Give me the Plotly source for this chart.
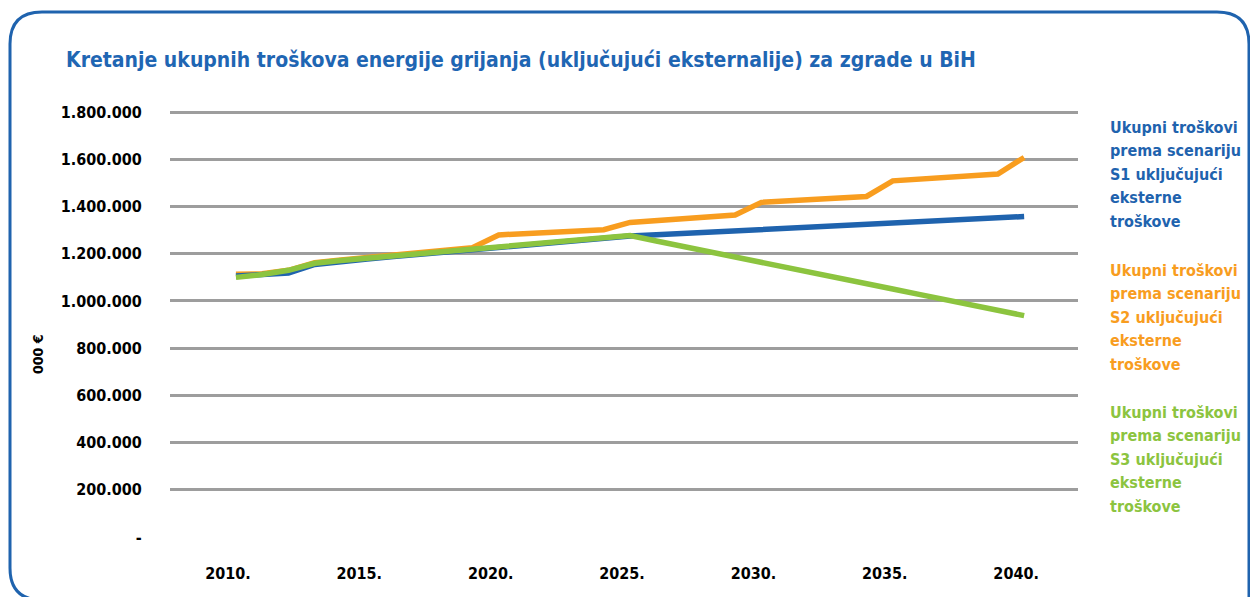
import plotly.graph_objects as go

years = list(range(2010, 2041))

s1_blue = [1106000, 1110000, 1118000, 1155000, 1168000, 1178000, 1188000, 1198000,
           1208000, 1218000, 1228000, 1237000, 1246000, 1255000, 1264000, 1275000,
           1280500, 1286000, 1291500, 1297000, 1302500, 1308000, 1313500, 1319000,
           1324500, 1330000, 1335500, 1341000, 1346500, 1352000, 1358000]

s2_orange = [1113000, 1115000, 1130000, 1162000, 1174000, 1184000, 1194000, 1204000,
             1214000, 1226000, 1280000, 1286000, 1291000, 1297000, 1302000, 1333000,
             1340000, 1348000, 1356000, 1364000, 1418000, 1424000, 1430000, 1437000,
             1443000, 1509000, 1516000, 1523000, 1530000, 1538000, 1608000]

s3_green = [1100000, 1112000, 1130000, 1160000, 1172000, 1182000, 1192000, 1202000,
            1212000, 1222000, 1232000, 1241000, 1250000, 1259000, 1268000, 1277000,
            1254000, 1232000, 1209000, 1187000, 1164000, 1141000, 1119000, 1096000,
            1074000, 1051000, 1028000, 1006000, 983000, 961000, 938000]

x_tick_vals = [2010, 2015, 2020, 2025, 2030, 2035, 2040]
x_tick_text = ["2010.", "2015.", "2020.", "2025.", "2030.", "2035.", "2040."]
y_tick_vals = [0, 200000, 400000, 600000, 800000, 1000000, 1200000, 1400000, 1600000, 1800000]
y_tick_text = ["-", "200.000", "400.000", "600.000", "800.000", "1.000.000",
               "1.200.000", "1.400.000", "1.600.000", "1.800.000"]

legend_lines = [
    ["Ukupni troškovi", "prema scenariju", "S1 uključujući", "eksterne", "troškove"],
    ["Ukupni troškovi", "prema scenariju", "S2 uključujući", "eksterne", "troškove"],
    ["Ukupni troškovi", "prema scenariju", "S3 uključujući", "eksterne", "troškove"],
]
title_text = "Kretanje ukupnih troškova energije grijanja (uključujući eksternalije) za zgrade u BiH"

BLUE = "#1f63ae"
ORANGE = "#f89d1f"
GREEN = "#8cc43f"
TITLE_BLUE = "#1f66b3"
FONT = "DejaVu Sans Condensed, Arial Narrow, sans-serif"

W, H = 1250, 597
L, R, T, B = 170, 172, 111, 60
PW, PH = W - L - R, H - T - B


def px(x):
    return (x - L) / PW


def py(y):
    return (H - B - y) / PH


fig = go.Figure()
fig.add_trace(go.Scatter(x=years, y=s2_orange, mode="lines",
                         line=dict(color=ORANGE, width=5.5), showlegend=False))
fig.add_trace(go.Scatter(x=years, y=s1_blue, mode="lines",
                         line=dict(color=BLUE, width=5.5), showlegend=False))
fig.add_trace(go.Scatter(x=years, y=s3_green, mode="lines",
                         line=dict(color=GREEN, width=5.5), showlegend=False))

# rounded border
x0, x1, y0, y1, r = 10, 1249, 12, 600, 32
path = (f"M {px(x1)},{py(y1)} L {px(x0 + r)},{py(y1)} "
        f"Q {px(x0)},{py(y1)} {px(x0)},{py(y1 - r)} "
        f"L {px(x0)},{py(y0 + r)} "
        f"Q {px(x0)},{py(y0)} {px(x0 + r)},{py(y0)} "
        f"L {px(x1 - r)},{py(y0)} Q {px(x1)},{py(y0)} {px(x1)},{py(y0 + r)} "
        f"L {px(x1)},{py(y1)}")
fig.add_shape(type="path", path=path, xref="paper", yref="paper",
              line=dict(color="#1f63ae", width=3), layer="below")

annotations = [
    dict(text=title_text, x=px(64), y=py(60), xref="paper", yref="paper",
         xanchor="left", yanchor="middle", showarrow=False,
         font=dict(family=FONT, size=21, color=TITLE_BLUE, weight="bold")),
    dict(text="000 €", x=px(38), y=py(355), xref="paper", yref="paper",
         xanchor="center", yanchor="middle", textangle=-90, showarrow=False,
         font=dict(family=FONT, size=14, color="black", weight="bold")),
]
legend_tops = [127, 270, 412]
for lines, color, top in zip(legend_lines, [BLUE, ORANGE, GREEN], legend_tops):
    for i, line in enumerate(lines):
        annotations.append(dict(text=line, x=px(1108), y=py(top + i * 23.5),
                                xref="paper", yref="paper",
                                xanchor="left", yanchor="middle", align="left",
                                showarrow=False,
                                font=dict(family=FONT, size=16, color=color,
                                          weight="bold")))

fig.update_layout(
    width=W, height=H,
    margin=dict(l=L, r=R, t=T, b=B),
    paper_bgcolor="white", plot_bgcolor="white",
    annotations=annotations,
    xaxis=dict(range=[2007.49, 2042.05], tickvals=x_tick_vals, ticktext=x_tick_text,
               showgrid=False, zeroline=False, showline=False,
               ticks="outside", ticklen=22, tickcolor="rgba(0,0,0,0)",
               ticklabelshift=-8,
               tickfont=dict(family=FONT, size=16, color="black", weight="bold")),
    yaxis=dict(range=[0, 1805000], tickvals=y_tick_vals, ticktext=y_tick_text,
               showgrid=True, gridcolor="#9d9d9d", gridwidth=2.5,
               zeroline=False, showline=False,
               ticks="outside", ticklen=24, tickcolor="rgba(0,0,0,0)",
               tickfont=dict(family=FONT, size=16, color="black", weight="bold")),
)

fig.write_html("out.html", config={"displayModeBar": False},
               post_script="document.body.style.margin='0px';")
